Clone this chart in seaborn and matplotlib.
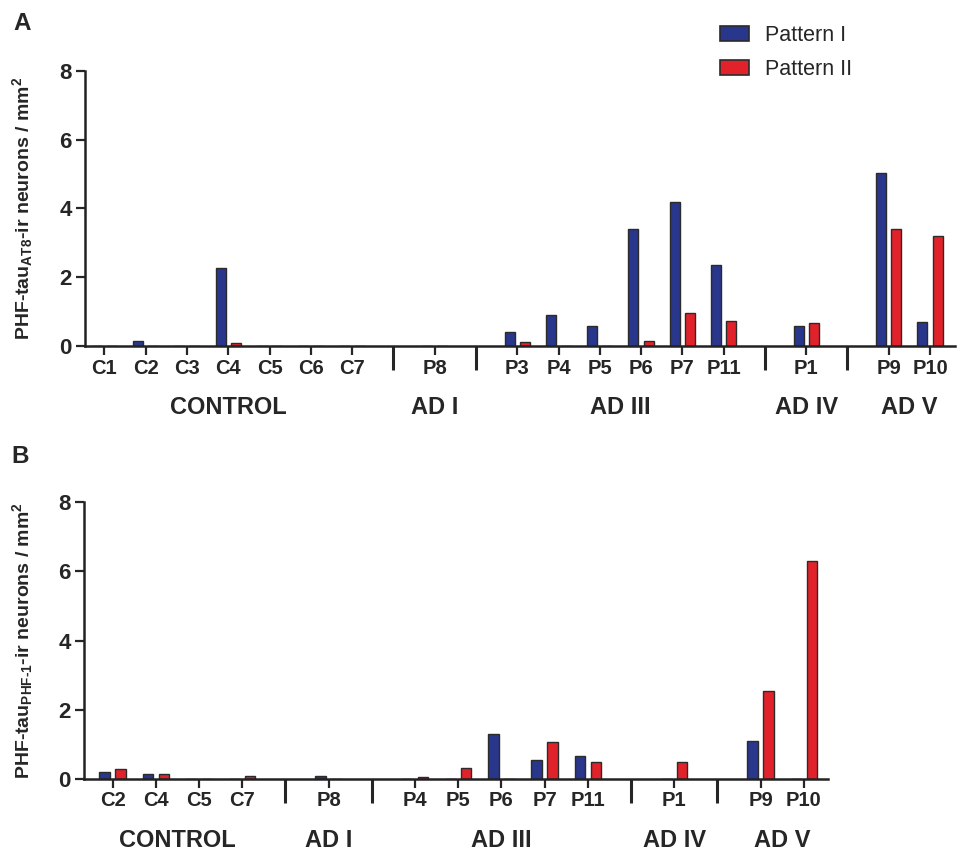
import matplotlib
matplotlib.use("Agg")
import matplotlib.pyplot as plt
import matplotlib.transforms as mtransforms
from matplotlib.patches import Patch
import pandas as pd
import seaborn as sns

sns.set_style("ticks")
plt.rcParams["font.family"] = ["Liberation Sans", "DejaVu Sans"]
plt.rcParams["mathtext.fontset"] = "custom"
plt.rcParams["mathtext.bf"] = "Liberation Sans:bold"
plt.rcParams["mathtext.rm"] = "Liberation Sans:bold"
plt.rcParams["mathtext.default"] = "bf"

BLUE = "#28368c"
RED = "#e2222a"
EDGE = "#2b2b2b"
patterns = ["Pattern I", "Pattern II"]

# panel A: AT8
groups_a = ["CONTROL", "AD I", "AD III", "AD IV", "AD V"]
samples_a = [["C1", "C2", "C3", "C4", "C5", "C6", "C7"],
             ["P8"],
             ["P3", "P4", "P5", "P6", "P7", "P11"],
             ["P1"],
             ["P9", "P10"]]
pattern1_a = [0, 0.14, 0, 2.27, 0, 0, 0, 0, 0.40, 0.90, 0.58, 3.41, 4.18, 2.35, 0.58, 5.03, 0.69]
pattern2_a = [0, 0, 0, 0.10, 0, 0, 0, 0, 0.12, 0, 0, 0.15, 0.95, 0.73, 0.66, 3.41, 3.20]

# panel B: PHF-1
groups_b = ["CONTROL", "AD I", "AD III", "AD IV", "AD V"]
samples_b = [["C2", "C4", "C5", "C7"],
             ["P8"],
             ["P4", "P5", "P6", "P7", "P11"],
             ["P1"],
             ["P9", "P10"]]
pattern1_b = [0.18, 0.13, 0, 0, 0.07, 0, 0, 1.30, 0.53, 0.67, 0, 1.08, 0]
pattern2_b = [0.29, 0.14, 0, 0.07, 0, 0.06, 0.32, 0, 1.06, 0.47, 0.49, 2.53, 6.31]


def draw_panel(ax, groups, samples, p1, p2, ylabel, xlim, label_x):
    # separator slots between groups
    order = []
    for i, grp in enumerate(samples):
        if i:
            order.append(f"sep{i}")
        order.extend(grp)
    names = [s for grp in samples for s in grp]
    df = pd.DataFrame({
        "sample": names * 2,
        "value": p1 + p2,
        "pattern": [patterns[0]] * len(names) + [patterns[1]] * len(names),
    })
    sns.barplot(data=df, x="sample", y="value", hue="pattern", order=order,
                hue_order=patterns, palette=[BLUE, RED], saturation=1,
                width=0.74, gap=0.35, edgecolor=EDGE, linewidth=1,
                errorbar=None, legend=False, ax=ax)

    pos = {n: i for i, n in enumerate(order)}
    ax.set_xticks([pos[n] for n in names])
    ax.set_xticklabels(names, fontsize=14.5, fontweight="bold")
    ax.set_xticks([pos[n] for n in order if n.startswith("sep")], minor=True)
    ax.tick_params(axis="x", which="major", length=6.5, width=1.6, pad=2.5)
    ax.tick_params(axis="x", which="minor", length=17.5, width=2.2)
    ax.set_xlim(*xlim)
    ax.set_xlabel("")

    ax.set_ylim(0, 8)
    ax.set_yticks([0, 2, 4, 6, 8])
    ax.set_yticklabels(["0", "2", "4", "6", "8"], fontsize=16, fontweight="bold")
    ax.tick_params(axis="y", length=6.5, width=1.6, pad=3)
    ax.set_ylabel(ylabel, fontsize=14, fontweight="bold")
    ax.yaxis.set_label_coords(label_x, 0.5)

    sns.despine(ax=ax)
    for side in ["left", "bottom"]:
        ax.spines[side].set_linewidth(1.8)
        ax.spines[side].set_color("#222222")

    trans = mtransforms.blended_transform_factory(ax.transData, ax.transAxes)
    for g, grp in zip(groups, samples):
        cx = (pos[grp[0]] + pos[grp[-1]]) / 2
        ax.text(cx, -0.222, g, transform=trans, ha="center", va="center",
                fontsize=17, fontweight="bold")


fig = plt.figure(figsize=(9.58, 8.5), dpi=100)
ax_a = fig.add_axes([0.0887, 0.5929, 0.908, 0.3239])
ax_b = fig.add_axes([0.0877, 0.0839, 0.7766, 0.3251])

draw_panel(ax_a, groups_a, samples_a, pattern1_a, pattern2_a,
           r"PHF-tau$_{AT8}$-ir neurons / mm$^{2}$", (-0.47, 20.6), -0.0575)
draw_panel(ax_b, groups_b, samples_b, pattern1_b, pattern2_b,
           r"PHF-tau$_{\text{PHF-1}}$-ir neurons / mm$^{2}$", (-0.66, 16.56), -0.066)

fig.text(22 / 958, 1 - 24 / 850, "A", ha="center", va="center", fontsize=17.5, fontweight="bold")
fig.text(20 / 958, 1 - 457 / 850, "B", ha="center", va="center", fontsize=17.5, fontweight="bold")

handles = [Patch(facecolor=BLUE, edgecolor=EDGE, linewidth=1.2, label=patterns[0]),
           Patch(facecolor=RED, edgecolor=EDGE, linewidth=1.2, label=patterns[1])]
fig.legend(handles=handles, loc="upper left", bbox_to_anchor=(720 / 958, 1 - 25 / 850),
           frameon=False, fontsize=15.5, handlelength=1.35, handleheight=0.7,
           handletextpad=0.75, labelspacing=0.6, borderpad=0, borderaxespad=0)

fig.savefig("out.png", dpi=100)
